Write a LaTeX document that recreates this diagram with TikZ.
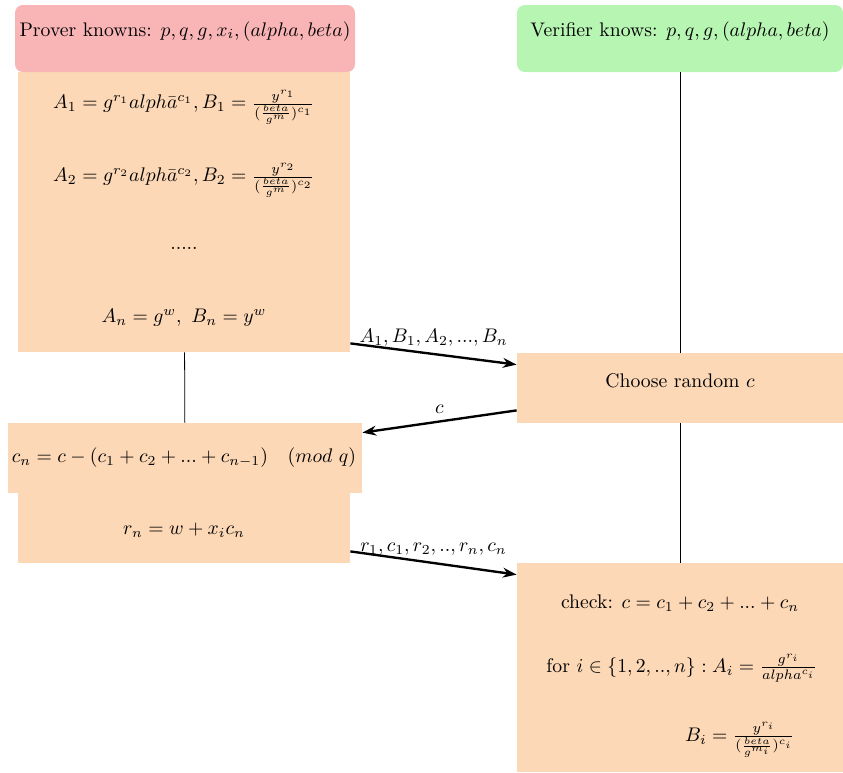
\documentclass[tikz,border=0pt]{standalone}
\usetikzlibrary{arrows.meta,calc,fit}

\definecolor{peach}{RGB}{252,216,182}
\definecolor{rosepink}{RGB}{249,180,182}
\definecolor{mintgreen}{RGB}{183,245,178}

\tikzset{
    block/.style={fill=peach, inner sep=0pt},
    header/.style={inner sep=0pt, rounded corners=4pt},
    msg/.style={-{Stealth[length=7pt,width=5pt]}, line width=1.2pt},
}

\begin{document}
\begin{tikzpicture}[x=0.508pt, y=-0.508pt]
    \useasboundingbox (0,0) rectangle (843,772);

    % Prover boxes
    \node[block, fit={(18,72) (350,352)}] (commit) {};
    \node[block, fit={(8,423) (362,493)}] (split) {};
    \node[block, fit={(18,493) (350,563)}] (resp) {};
    \node[header, fill=rosepink, fit={(15,5) (355,72)}] (prover) {Prover knowns: $p,q,g,x_i,(alpha,beta)$};

    % Verifier boxes
    \node[header, fill=mintgreen, fit={(517,5) (843,72)}] (verifier) {Verifier knows: $p,q,g,(alpha,beta)$};
    \node[block, fit={(517,353) (843,423)}] (challenge) {Choose random $c$};
    \node[block, fit={(517,563) (843,772)}] (check) {};

    % Prover computations
    \node (a1) at (184,107) {$A_1 = g^{r_1}alph\bar{a}^{c_1}, B_1 = \frac{y^{r_1}}{(\frac{beta}{g^m})^{c_1}}$};
    \node (a2) at (184,180) {$A_2 = g^{r_2}alph\bar{a}^{c_2}, B_2 = \frac{y^{r_2}}{(\frac{beta}{g^m})^{c_2}}$};
    \node (dots) at (184,248) {.....};
    \node (an) at (184,318) {$A_n = g^w,\ B_n = y^w$};
    \node (cn) at (184,458) {$c_n = c - (c_1 + c_2 + ... + c_{n-1}) \quad (mod\ q)$};
    \node (rn) at (184,530) {$r_n = w + x_i c_n$};

    % Verifier checks
    \node (sum) at (680,603) {check: $c = c_1 + c_2 + ... + c_n$};
    \node (ai) at (682,668) {for $i \in \{1,2,..,n\} : A_i = \frac{g^{r_i}}{alpha^{c_i}}$};
    \node (bi) at (740,740) {$B_i = \frac{y^{r_i}}{(\frac{beta}{g^{m_i}})^{c_i}}$};

    % Timelines
    \draw (verifier) -- (challenge);
    \draw (challenge) -- (check);
    \draw (commit) -- (split);

    % Messages
    \draw[msg] ($(commit.south east)+(0,-9)$) -- node[above] {$A_1,B_1,A_2,...,B_n$} ($(challenge.north west)+(0,12)$);
    \draw[msg] ($(challenge.south west)+(0,-13)$) -- node[above] {$c$} ($(split.north east)+(0,10)$);
    \draw[msg] ($(resp.south east)+(0,-12)$) -- node[above] {$r_1,c_1,r_2,..,r_n,c_n$} ($(check.north west)+(0,12)$);
\end{tikzpicture}
\end{document}
